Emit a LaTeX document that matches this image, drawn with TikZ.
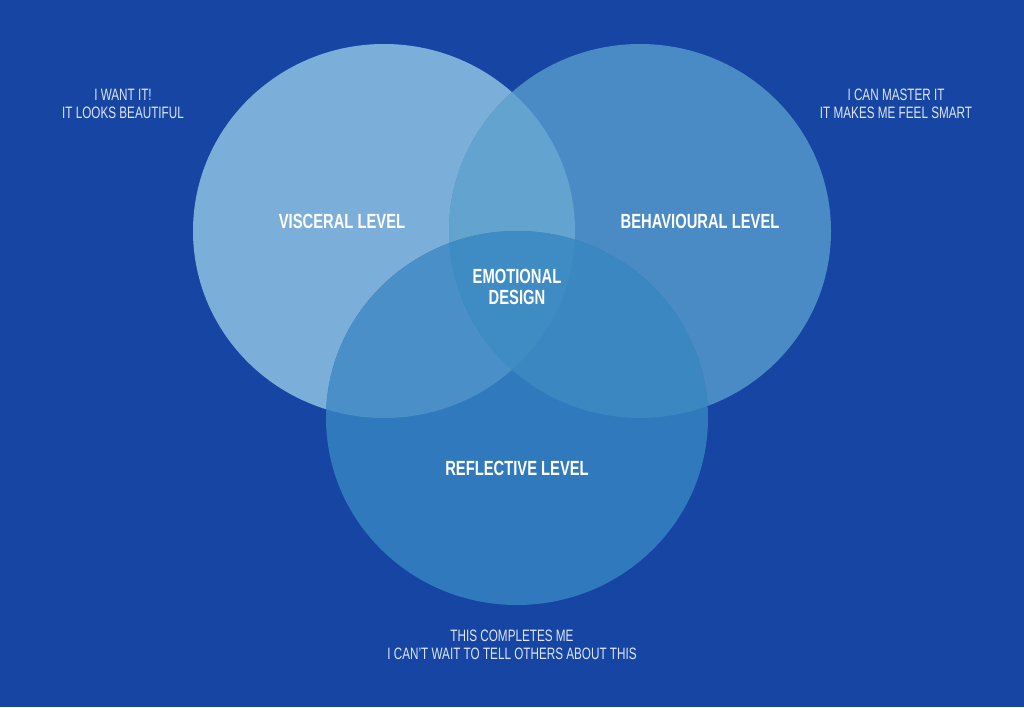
\documentclass[tikz,border=0pt]{standalone}
\usepackage{fontspec}
\setmainfont[FakeStretch=0.71]{Liberation Sans}
\newfontfamily\condbold[FakeStretch=0.72]{Liberation Sans Bold}
\definecolor{bg}{HTML}{1645A3}
\definecolor{cV}{HTML}{7BAFD9}
\definecolor{cB}{HTML}{4A8BC6}
\definecolor{cR}{HTML}{2F79BC}
\definecolor{cVB}{HTML}{62A3D0}
\definecolor{cVR}{HTML}{4A8FC8}
\definecolor{cBR}{HTML}{3A87C2}
\definecolor{cVBR}{HTML}{3F8CC4}
\definecolor{smalltext}{HTML}{DCE6F5}
\tikzset{
  smallnote/.style={text=smalltext, align=center, font=\fontsize{16.5}{17.5}\selectfont, inner sep=0pt},
  biglabel/.style={text=white, align=center, font=\condbold\fontsize{20.5}{21.5}\selectfont, inner sep=0pt},
  venn/.style={x radius=191pt, y radius=187pt}
}
\begin{document}
\begin{tikzpicture}[x=1pt,y=-1pt]
\fill[bg] (0,0) rectangle (1024,707);
\useasboundingbox (0,0) rectangle (1024,707);
\coordinate (vc) at (384,231);
\coordinate (bc) at (640,231);
\coordinate (rc) at (517,418);
% single circles
\fill[cV] (vc) ellipse [venn];
\fill[cB] (bc) ellipse [venn];
\fill[cR] (rc) ellipse [venn];
% pairwise overlaps
\begin{scope}
  \clip (vc) ellipse [venn];
  \fill[cVB] (bc) ellipse [venn];
  \fill[cVR] (rc) ellipse [venn];
\end{scope}
\begin{scope}
  \clip (bc) ellipse [venn];
  \fill[cBR] (rc) ellipse [venn];
\end{scope}
\begin{scope}
  \clip (vc) ellipse [venn];
  \clip (bc) ellipse [venn];
  \fill[cVBR] (rc) ellipse [venn];
\end{scope}
% labels
\node[biglabel] (visceral) at (342,221) {VISCERAL LEVEL};
\node[biglabel] (behavioural) at (700,221) {BEHAVIOURAL LEVEL};
\node[biglabel] (emotional) at (517,287) {EMOTIONAL\\DESIGN};
\node[biglabel] (reflective) at (517,468) {REFLECTIVE LEVEL};
% notes
\node[smallnote] (noteV) at (123,104) {I WANT IT!\\IT LOOKS BEAUTIFUL};
\node[smallnote] (noteB) at (896,104) {I CAN MASTER IT\\IT MAKES ME FEEL SMART};
\node[smallnote] (noteR) at (512,645) {THIS COMPLETES ME\\I CAN'T WAIT TO TELL OTHERS ABOUT THIS};
\end{tikzpicture}
\end{document}
